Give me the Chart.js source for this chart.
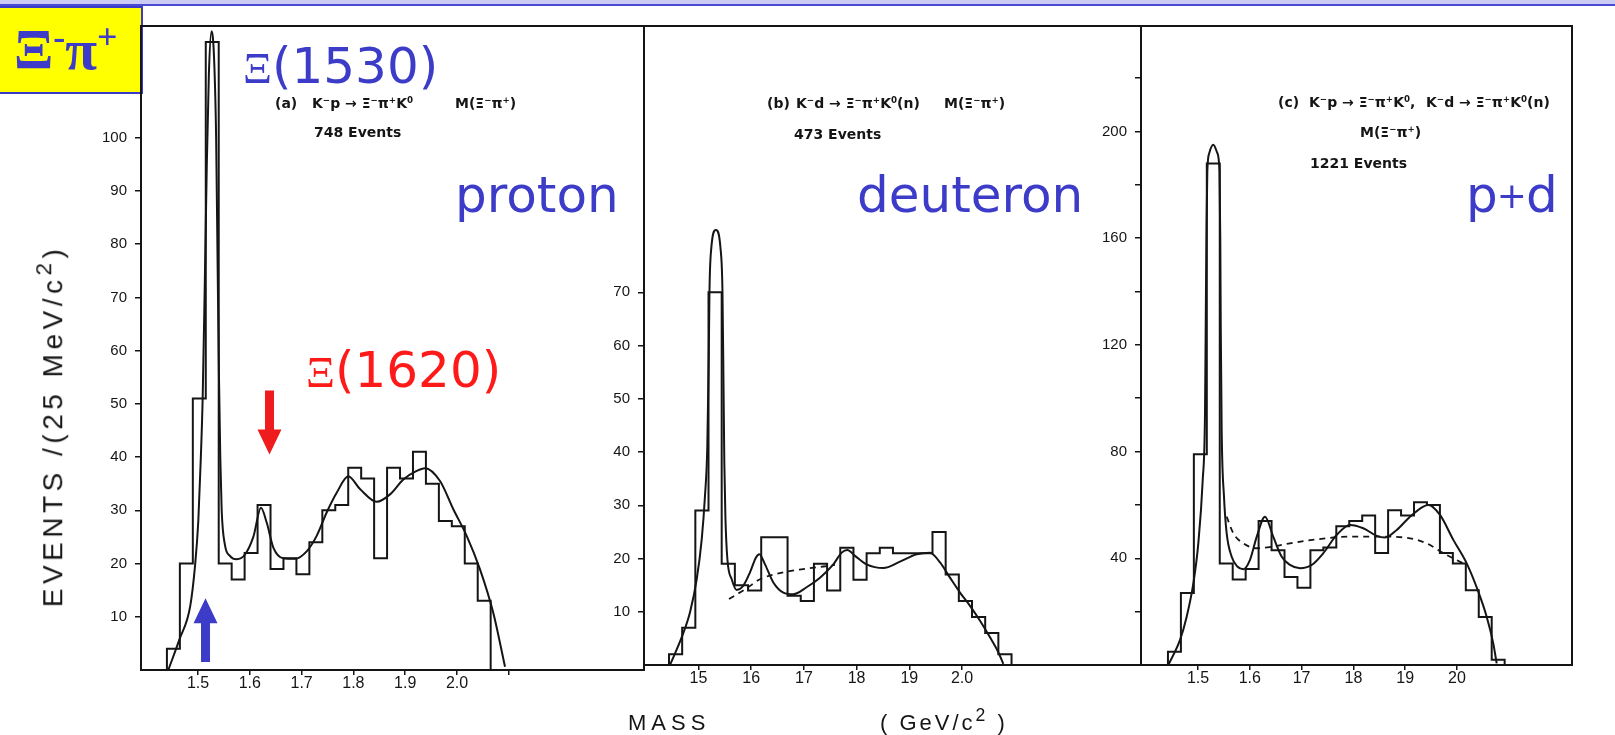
<!DOCTYPE html>
<html>
<head>
<meta charset="utf-8">
<script src="https://cdn.jsdelivr.net/npm/chart.js@4.4.0/dist/chart.umd.min.js"></script>
<style>
html,body{margin:0;padding:0;background:#fff;}
body{width:1615px;height:735px;position:relative;overflow:hidden;font-family:"DejaVu Sans",sans-serif;}
canvas{position:absolute;top:0;}
.t{position:absolute;white-space:nowrap;line-height:1;}
.sp{font-size:0.62em;position:relative;top:-0.55em;}
.sp2{font-size:0.8em;position:relative;top:-0.5em;}
.xi{font-family:"Liberation Serif",serif;font-size:0.9em;}
.plus{font-size:0.72em;position:relative;top:-0.12em;}
#band{position:absolute;left:0;top:0;width:1615px;height:4px;background:#cbcbf6;}
#bandline{position:absolute;left:0;top:4px;width:1615px;height:2px;background:#4a4ad2;}
#ybox{position:absolute;left:-2px;top:6px;width:141px;height:84px;background:#ffff00;border:2px solid #3c3cc8;}
</style>
</head>
<body>
<div id="band"></div>
<div id="bandline"></div>
<div id="ybox"></div>
<canvas id="ca" width="585" height="735" style="left:61px"></canvas>
<canvas id="cb" width="579" height="735" style="left:564px"></canvas>
<canvas id="cc" width="513" height="735" style="left:1061px"></canvas>
<script>
// ---------- DATA ----------
const binWidth = 0.025;               // 25 MeV/c^2 bins

// (a) K-p -> Xi- pi+ K0  (748 events)
const binStartA = 1.440;
const countsA = [4,20,51,118,20,17,22,31,19,21,18,24,30,31,38,36,21,38,36,41,35,28,27,20,13];
const fitMassA = [1.4427,1.464,1.485,1.4942,1.5006,1.5051,1.509,1.513,1.517,1.521,1.526,1.531,1.535,1.538,1.5405,1.543,1.5457,1.552,1.562,1.5746,1.5907,1.6068,1.6216,1.6326,1.6454,1.6647,1.6873,1.7098,1.7291,1.7484,1.7677,1.7902,1.8127,1.845,1.8707,1.8964,1.9222,1.9382,1.9672,1.9929,2.0187,2.0444,2.0701,2.0927];
const fitA = [0,5.7,12,19.5,28,39,51,72,95,112,120,115,100,75,55,40,30,23.5,21.4,20.8,21.7,25,30.5,27.7,23,21,20.9,22.3,25.2,29.6,33.3,36.4,34,31.6,33,35.8,37.4,37.9,35.5,30.2,25.2,18.9,10.7,0.6];

// (b) K-d -> Xi- pi+ K0 (n)  (473 events)
const binStartB = 1.444;
const countsB = [2,7,29,70,19,15,14,24,24,13,12,19,14,22,16,21,22,21,21,21,25,17,12,9,6,2];
const fitMassB = [1.4459,1.4693,1.4839,1.4966,1.5061,1.5123,1.5167,1.5195,1.5208,1.524,1.533,1.542,1.5455,1.5475,1.549,1.551,1.5547,1.563,1.5725,1.585,1.5977,1.6091,1.6154,1.6262,1.642,1.661,1.68,1.705,1.7306,1.7558,1.7717,1.7824,1.797,1.819,1.8507,1.8823,1.914,1.9393,1.9583,1.9772,1.9962,2.0152,2.0342,2.0531,2.0689,2.0784];
const fitB = [0,5.5,9.9,16.1,23.6,31.75,41,58,70,78,81.7,78,70,52,38,28,20,16.1,14.1,14.9,17.4,20.2,20.8,18.9,15.5,13.6,13.3,14.6,16.4,18.9,21.1,21.6,20.5,18.9,18.2,19.4,20.8,21.1,19.25,16.4,13.6,11.1,8.3,5.2,2.4,0.2];
const bgMassB = [1.5579,1.5915,1.6167,1.661,1.705,1.7368,1.759];
const bgB = [12.4,14.4,16.1,17.4,18.1,18.5,18.8];

// (c) p + d combined  (1221 events)
const binStartC = 1.442;
const countsC = [5,27,79,188,38,32,36,54,43,33,29,43,44,52,54,56,42,58,56,61,60,42,38,28,18,2];
const fitMassC = [1.4427,1.4653,1.478,1.491,1.5006,1.509,1.5135,1.515,1.5165,1.518,1.522,1.5296,1.537,1.5415,1.543,1.544,1.5457,1.5502,1.5553,1.565,1.5759,1.5875,1.6004,1.6133,1.6293,1.6454,1.6616,1.6776,1.6969,1.7195,1.7419,1.7678,1.7934,1.8191,1.845,1.861,1.8836,1.9093,1.935,1.9446,1.9672,1.9929,2.0187,2.0411,2.0573,2.07,2.0766];
const fitC = [0,9.4,18,30.6,45.6,69,94,130,165,185,192,195,192,185,160,125,88,63,49.4,40.6,36.9,35.9,39.4,48,55.6,48,40.6,37.5,36.25,37.5,41.9,48.75,52.5,51.25,48.4,47.75,50.6,55.6,59.4,60,56.25,46.9,38.1,27.5,18.1,8.1,0.6];
const bgMassC = [1.5553,1.5682,1.5875,1.6133,1.6454,1.6776,1.729,1.7934,1.8579,1.9093,1.9414,1.9736,2.0122];
const bgC = [55.6,49.4,45.6,43.75,44.4,45.6,47.1,48.1,48.1,47.5,45.6,41.9,38.1];

// tick values and tick labels (as printed)
const xTicksA = [1.5,1.6,1.7,1.8,1.9,2.0,2.1];
const xLabelsA = ['1.5','1.6','1.7','1.8','1.9','2.0',''];
const xTicksB = [1.5,1.6,1.7,1.8,1.9,2.0];
const xLabelsB = ['15','16','17','18','19','2.0'];
const xTicksC = [1.5,1.6,1.7,1.8,1.9,2.0];
const xLabelsC = ['1.5','1.6','17','18','19','20'];
const yTicksA = [10,20,30,40,50,60,70,80,90,100];
const yLabelsA = ['10','20','30','40','50','60','70','80','90','100'];
const yTicksB = [10,20,30,40,50,60,70];
const yLabelsB = ['10','20','30','40','50','60','70'];
const yTicksC = [20,40,60,80,100,120,140,160,180,200,220];
const yLabelsC = ['','40','','80','','120','','160','','200',''];

// annotation arrows in panel (a): mass position, from value, to value
const arrowMassA = [1.5145, 1.638];
const arrowFromA = [1.5, 52.5];
const arrowToA = [13.5, 40.5];
const arrowColorsA = ['#3c3cc8', '#ee1c1c'];

// ---------- DRAWING ----------
const INK = '#151515';

function histPoints(start, counts) {
  const pts = [{x: start, y: 0}];
  counts.forEach((c, i) => pts.push({x: start + i * binWidth, y: c}));
  pts.push({x: start + counts.length * binWidth, y: 0});
  return pts;
}
function xy(xs, ys) { return xs.map((x, i) => ({x: x, y: ys[i]})); }

const framePlugin = {
  id: 'frame',
  afterDraw(chart) {
    const a = chart.chartArea, ctx = chart.ctx;
    ctx.save();
    ctx.strokeStyle = INK; ctx.lineWidth = 2;
    ctx.strokeRect(a.left, a.top, a.right - a.left, a.bottom - a.top);
    ctx.restore();
  }
};

const arrowPlugin = {
  id: 'arrows',
  afterDatasetsDraw(chart, args, opts) {
    if (!opts || !opts.mass) return;
    const ctx = chart.ctx, xs = chart.scales.x, ys = chart.scales.y;
    opts.mass.forEach((m, i) => {
      const x = xs.getPixelForValue(m);
      const y0 = ys.getPixelForValue(opts.from[i]);
      const y1 = ys.getPixelForValue(opts.to[i]);
      const dir = y1 < y0 ? -1 : 1;
      const head = 25, hw = 12, sw = 4.5;
      const yb = y1 - dir * head;
      ctx.save();
      ctx.fillStyle = opts.colors[i];
      ctx.beginPath();
      ctx.moveTo(x - sw, y0); ctx.lineTo(x - sw, yb); ctx.lineTo(x - hw, yb);
      ctx.lineTo(x, y1); ctx.lineTo(x + hw, yb); ctx.lineTo(x + sw, yb);
      ctx.lineTo(x + sw, y0); ctx.closePath(); ctx.fill();
      ctx.restore();
    });
  }
};

function makePanel(id, cfg) {
  const el = document.getElementById(id);
  const H = el.height;
  const datasets = [
    {data: histPoints(cfg.binStart, cfg.counts), stepped: 'before', borderColor: INK, borderWidth: 2, pointRadius: 0, fill: false},
    {data: xy(cfg.fitMass, cfg.fit), cubicInterpolationMode: 'monotone', borderColor: INK, borderWidth: 2, pointRadius: 0, fill: false}
  ];
  if (cfg.bgMass) {
    datasets.push({data: xy(cfg.bgMass, cfg.bg), cubicInterpolationMode: 'monotone', borderColor: INK, borderWidth: 1.8, borderDash: [6, 5], pointRadius: 0, fill: false});
  }
  return new Chart(el, {
    type: 'line',
    data: {datasets},
    options: {
      responsive: false, animation: false, events: [], devicePixelRatio: 1,
      layout: {autoPadding: false, padding: {left: 0, right: 2, top: cfg.top, bottom: 0}},
      plugins: {legend: {display: false}, tooltip: {enabled: false}, arrows: cfg.arrows || {}},
      scales: {
        x: {
          type: 'linear', min: cfg.xMin, max: cfg.xMax,
          afterBuildTicks: ax => { ax.ticks = cfg.xTicks.map(v => ({value: v})); },
          afterFit: s => { s.height = H - cfg.bottom; s.paddingLeft = 0; s.paddingRight = 0; },
          ticks: {autoSkip: false, maxRotation: 0, padding: -1, color: INK,
                  font: {family: 'Liberation Sans', size: 16},
                  callback: (v, i) => cfg.xLabels[i]},
          grid: {drawOnChartArea: false, drawTicks: true, tickLength: 5, color: INK, lineWidth: 1.5},
          border: {display: false}
        },
        y: {
          type: 'linear', min: 0, max: cfg.yMax,
          afterBuildTicks: ax => { ax.ticks = cfg.yTicks.map(v => ({value: v})); },
          afterFit: s => { s.width = 80; s.paddingTop = 0; s.paddingBottom = 0; },
          ticks: {autoSkip: false, padding: 8, color: INK,
                  font: {family: 'Liberation Sans', size: 15},
                  callback: (v, i) => cfg.yLabels[i]},
          grid: {drawOnChartArea: false, drawTicks: true, tickLength: 6, color: INK, lineWidth: 1.5},
          border: {display: false}
        }
      }
    },
    plugins: [framePlugin, arrowPlugin]
  });
}

makePanel('ca', {binStart: binStartA, counts: countsA, fitMass: fitMassA, fit: fitA,
  xMin: 1.38996, xMax: 2.36100, yMax: 121, top: 26, bottom: 670,
  xTicks: xTicksA, xLabels: xLabelsA, yTicks: yTicksA, yLabels: yLabelsA,
  arrows: {mass: arrowMassA, from: arrowFromA, to: arrowToA, colors: arrowColorsA}});
makePanel('cb', {binStart: binStartB, counts: countsB, fitMass: fitMassB, fit: fitB, bgMass: bgMassB, bg: bgB,
  xMin: 1.39658, xMax: 2.33966, yMax: 120, top: 26, bottom: 665,
  xTicks: xTicksB, xLabels: xLabelsB, yTicks: yTicksB, yLabels: yLabelsB});
makePanel('cc', {binStart: binStartC, counts: countsC, fitMass: fitMassC, fit: fitC, bgMass: bgMassC, bg: bgC,
  xMin: 1.38996, xMax: 2.22201, yMax: 239.5, top: 26, bottom: 665,
  xTicks: xTicksC, xLabels: xLabelsC, yTicks: yTicksC, yLabels: yLabelsC});

// ---------- TEXT ----------
function addText(html, left, baseline, css) {
  const d = document.createElement('div');
  d.className = 't';
  d.style.cssText = css;
  d.innerHTML = html + '<span style="display:inline-block;width:0;height:0;vertical-align:baseline"></span>';
  d.style.left = left + 'px';
  d.style.top = '0px';
  document.body.appendChild(d);
  const off = d.lastChild.offsetTop;
  d.style.top = (baseline - off) + 'px';
  return d;
}
const BLUE = 'color:#3c3cc8;';
const RED = 'color:#ff1a1a;';
const big = 'font-family:"DejaVu Sans";font-size:50px;';
const small = 'font-family:"DejaVu Sans";font-size:14px;font-weight:bold;color:#151515;';
const sp = s => '<span class="sp">' + s + '</span>';
const sp2 = s => '<span class="sp2">' + s + '</span>';

addText('Ξ' + sp('-') + 'π' + sp('+'), 14, 69, 'font-family:"Liberation Serif";font-size:58px;font-weight:bold;' + BLUE);
addText('<span class="xi">Ξ</span>(1530)', 243, 83, big + BLUE);
addText('<span class="xi">Ξ</span>(1620)', 306, 387, big + RED);
addText('proton', 455, 212, big + BLUE);
addText('deuteron', 857, 212, big + BLUE);
addText('p<span class="plus">+</span>d', 1466, 212, big + BLUE + 'letter-spacing:-1px;');

addText('(a)', 275, 108, small);
addText('K' + sp('−') + 'p → Ξ' + sp('−') + 'π' + sp('+') + 'K' + sp('0'), 312, 108, small);
addText('M(Ξ' + sp('−') + 'π' + sp('+') + ')', 455, 108, small);
addText('748 Events', 314, 137, small);

addText('(b)', 767, 108, small);
addText('K' + sp('−') + 'd → Ξ' + sp('−') + 'π' + sp('+') + 'K' + sp('0') + '(n)', 796, 108, small);
addText('M(Ξ' + sp('−') + 'π' + sp('+') + ')', 944, 108, small);
addText('473 Events', 794, 139, small);

addText('(c)', 1278, 107, small);
addText('K' + sp('−') + 'p → Ξ' + sp('−') + 'π' + sp('+') + 'K' + sp('0') + ',', 1309, 107, small);
addText('K' + sp('−') + 'd → Ξ' + sp('−') + 'π' + sp('+') + 'K' + sp('0') + '(n)', 1426, 107, small);
addText('M(Ξ' + sp('−') + 'π' + sp('+') + ')', 1360, 137, small);
addText('1221 Events', 1310, 168, small);

const axisFont = 'font-family:"Liberation Sans";font-size:22px;color:#151515;';
addText('MASS', 628, 730, axisFont + 'letter-spacing:5px;');
addText('( GeV/c' + sp2('2') + ' )', 880, 730, axisFont + 'letter-spacing:3px;');

const yt = addText('EVENTS /(25 MeV/c' + sp2('2') + ')', 0, 0, 'font-family:"Liberation Sans";font-size:28px;color:#151515;letter-spacing:4.5px;');
const w = yt.offsetWidth, h = yt.offsetHeight;
yt.style.left = (53 - w / 2) + 'px';
yt.style.top = (426 - h / 2) + 'px';
yt.style.transform = 'rotate(-90deg)';
</script>
</body>
</html>
